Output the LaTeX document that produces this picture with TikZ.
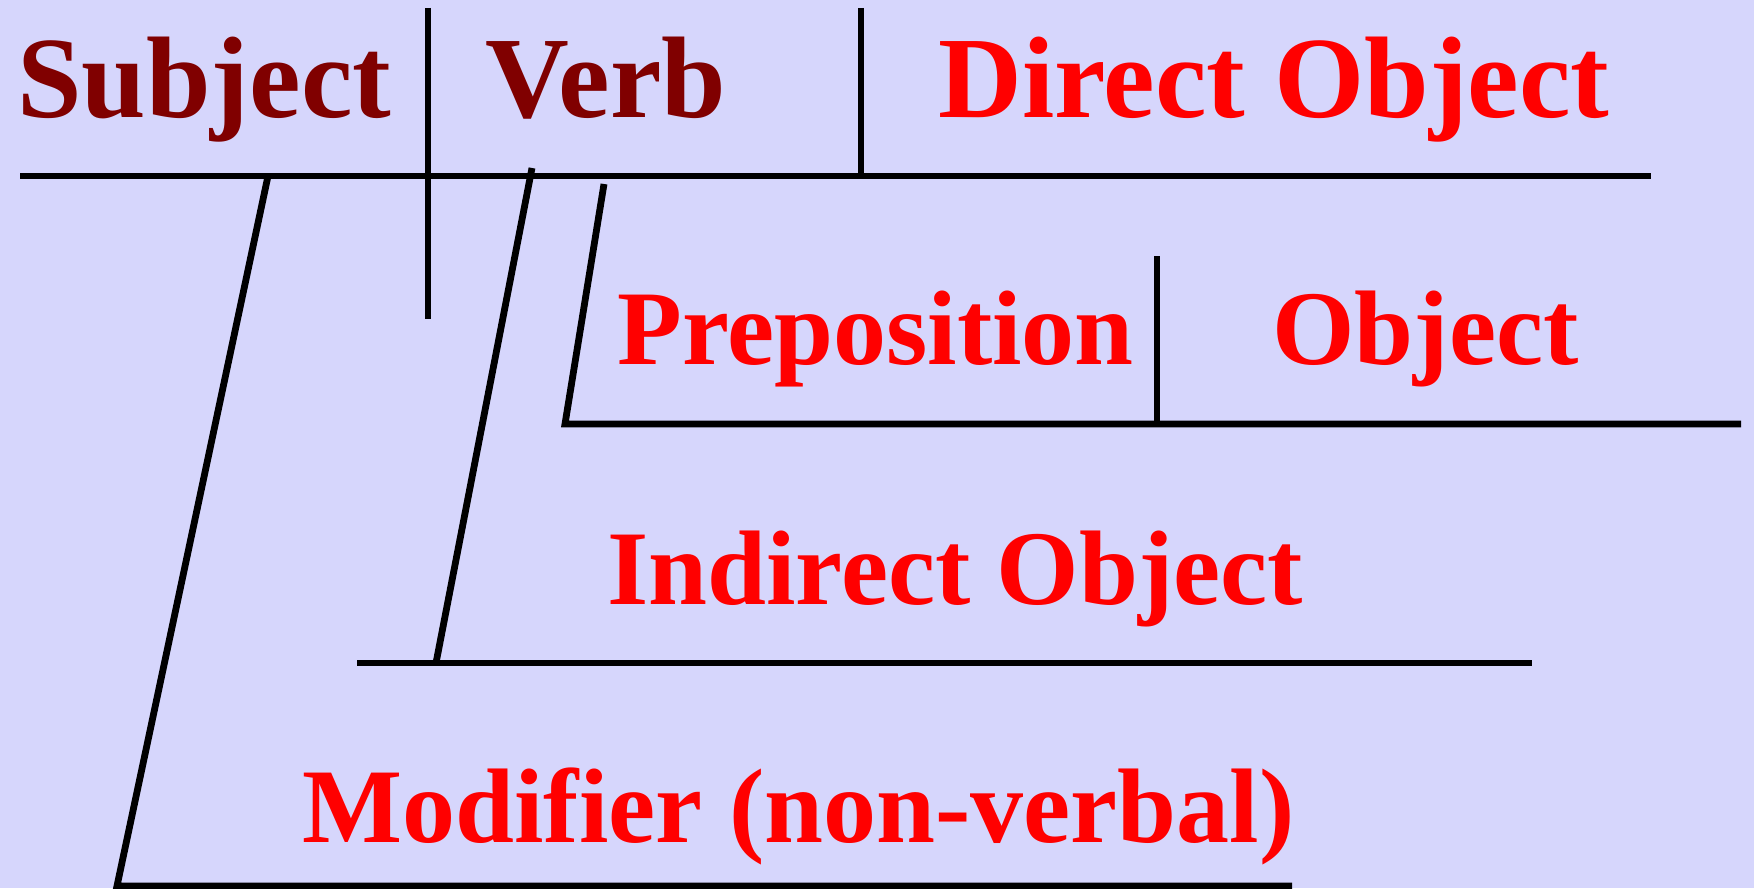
\documentclass[tikz,border=0pt]{standalone}
\usepackage{fontspec}
\setmainfont{Liberation Serif}[Ligatures=NoCommon]
\usepackage{tikz}
\usepackage{xcolor}
\definecolor{word-dark}{RGB}{128,0,0}
\definecolor{slide-bg}{RGB}{214,214,252}
\tikzset{
    diagram-line/.style = {draw=black, line width=3.4pt},
    top-word/.style = {anchor=base west, inner sep=0pt, font=\bfseries\fontsize{58}{60}\selectfont},
    low-word/.style = {anchor=base west, inner sep=0pt, text=red, font=\bfseries\fontsize{53}{55}\selectfont},
}

\begin{document}
\begin{tikzpicture}[x=0.5pt, y=-0.5pt]
\fill[slide-bg] (0,0) rectangle (1754,888);
\useasboundingbox (0,0) rectangle (1754,888);

\node[top-word, text=word-dark] (subject) at (17,118) {Subject};
\node[top-word, text=word-dark] (verb) at (485,118) {Verb};
\node[top-word, text=red] (direct-object) at (938,118) {Direct Object};
\node[low-word] (preposition) at (617,364) {Preposition};
\node[low-word] (object) at (1272,364) {Object};
\node[low-word] (indirect-object) at (607,604) {Indirect Object};
\node[low-word] (modifier) at (302,842) {Modifier (non-verbal)};

% base line and dividers
\coordinate (base-left) at (20,176);
\coordinate (base-right) at (1651,176);
\coordinate (sv-top) at (428,8);
\coordinate (sv-bottom) at (428,319);
\coordinate (vd-top) at (861,8);
\coordinate (vd-bottom) at (861,176);
\draw[diagram-line] (base-left) -- (base-right);
\draw[diagram-line] (sv-top) -- (sv-bottom);
\draw[diagram-line] (vd-top) -- (vd-bottom);

% modifier
\coordinate (mod-top) at (268,176);
\coordinate (mod-corner) at (117,886);
\coordinate (mod-end) at (1292,886);
\draw[diagram-line] (mod-top) -- (mod-corner) -- (mod-end);

% indirect object
\coordinate (io-top) at (532,168);
\coordinate (io-corner) at (436,663);
\coordinate (io-left) at (357,663);
\coordinate (io-right) at (1532,663);
\draw[diagram-line] (io-top) -- (io-corner);
\draw[diagram-line] (io-left) -- (io-right);

% prepositional phrase
\coordinate (prep-top) at (604,184);
\coordinate (prep-corner) at (565,424);
\coordinate (prep-right) at (1741,424);
\coordinate (po-top) at (1157,256);
\coordinate (po-bottom) at (1157,424);
\draw[diagram-line] (prep-top) -- (prep-corner) -- (prep-right);
\draw[diagram-line] (po-top) -- (po-bottom);
\end{tikzpicture}
\end{document}
